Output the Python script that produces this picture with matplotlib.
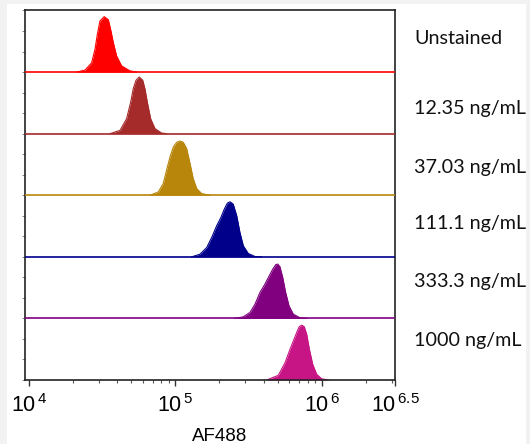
import numpy as np
import matplotlib
matplotlib.use("Agg")
import matplotlib.pyplot as plt
from matplotlib.patches import Rectangle
from matplotlib.ticker import LogLocator, NullFormatter

plt.rcParams["mathtext.fontset"] = "custom"
plt.rcParams["mathtext.rm"] = "Liberation Sans"
plt.rcParams["font.family"] = "Liberation Sans"

# sample labels, top to bottom
samples = ["Unstained", "12.35 ng/mL", "37.03 ng/mL", "111.1 ng/mL", "333.3 ng/mL", "1000 ng/mL"]
colors = ["#ff0000", "#a52a2a", "#b8860b", "#00008b", "#800080", "#c71585"]

# histogram outlines: log10(AF488) and height (fraction of a row)
unstained_log = [4.326, 4.383, 4.428, 4.451, 4.467, 4.485, 4.514, 4.542, 4.558, 4.576, 4.599, 4.633, 4.690, 4.736]
unstained_h = [0.0, 0.033, 0.15, 0.37, 0.61, 0.83, 0.90, 0.85, 0.69, 0.48, 0.26, 0.10, 0.02, 0.0]

c12_log = [4.553, 4.622, 4.667, 4.695, 4.712, 4.731, 4.753, 4.777, 4.792, 4.808, 4.831, 4.861, 4.906, 4.941]
c12_h = [0.0, 0.054, 0.244, 0.515, 0.73, 0.867, 0.92, 0.867, 0.73, 0.515, 0.244, 0.081, 0.01, 0.0]

c37_log = [4.827, 4.883, 4.917, 4.940, 4.963, 4.986, 5.009, 5.031, 5.054, 5.077, 5.100, 5.122, 5.146, 5.180, 5.236]
c37_h = [0.0, 0.054, 0.19, 0.41, 0.62, 0.785, 0.86, 0.88, 0.86, 0.76, 0.515, 0.27, 0.108, 0.027, 0.0]

c111_log = [5.111, 5.168, 5.214, 5.248, 5.282, 5.311, 5.334, 5.355, 5.373, 5.395, 5.419, 5.441, 5.464, 5.498, 5.544, 5.589]
c111_h = [0.0, 0.042, 0.151, 0.314, 0.504, 0.639, 0.774, 0.872, 0.894, 0.855, 0.667, 0.395, 0.179, 0.054, 0.005, 0.0]

c333_log = [5.407, 5.464, 5.510, 5.544, 5.578, 5.612, 5.641, 5.665, 5.685, 5.699, 5.714, 5.733, 5.753, 5.776, 5.805, 5.851, 5.897]
c333_h = [0.0, 0.026, 0.098, 0.233, 0.423, 0.558, 0.693, 0.80, 0.872, 0.883, 0.84, 0.667, 0.423, 0.205, 0.07, 0.01, 0.0]

c1000_log = [5.624, 5.703, 5.749, 5.783, 5.810, 5.833, 5.846, 5.863, 5.880, 5.897, 5.915, 5.938, 5.965, 5.999, 6.044]
c1000_h = [0.0, 0.076, 0.28, 0.50, 0.66, 0.797, 0.867, 0.89, 0.867, 0.743, 0.50, 0.255, 0.093, 0.02, 0.0]

curves = [
    (unstained_log, unstained_h),
    (c12_log, c12_h),
    (c37_log, c37_h),
    (c111_log, c111_h),
    (c333_log, c333_h),
    (c1000_log, c1000_h),
]

tick_exps = [4, 5, 6, 6.5]
tick_labels = [r"$10^{\,4}$", r"$10^{\,5}$", r"$10^{\,6}$", r"$10^{\,6.5}$"]

# label placement (row offsets), layout only
label_y = [5.54, 4.41, 3.45, 2.54, 1.60, 0.64]

fig = plt.figure(figsize=(5.30, 4.44), dpi=100)
fig.patch.set_facecolor("#f2f2f2")
fig.patches.append(Rectangle((7 / 530, 0), 519 / 530, 440 / 444, transform=fig.transFigure,
                             facecolor="white", edgecolor="none", zorder=-1))

ax = fig.add_axes([25 / 530, 64 / 444, 370 / 530, 369.5 / 444])
ax.set_xscale("log")
ax.set_xlim(10 ** 3.973, 10 ** 6.5)
ax.set_ylim(0, 6)

n = len(samples)
for i, (lg, h) in enumerate(curves):
    base = n - 1 - i
    x = 10 ** np.array(lg)
    y = base + np.array(h)
    ax.fill_between(x, base, y, color=colors[i], lw=0, zorder=2)
    ax.plot(x, y, color=colors[i], lw=0.8, zorder=2)
    if base > 0:
        ax.axhline(base, color=colors[i], lw=1.2, zorder=3)
    ax.text(1.052, label_y[i] / 6, samples[i], transform=ax.transAxes, ha="left", va="center",
            fontsize=14.2, family="Lato", color="#111111")

ax.set_xticks([10 ** e for e in tick_exps])
ax.set_xticklabels(tick_labels, fontsize=15.5)
ax.xaxis.set_minor_locator(LogLocator(base=10, subs=np.arange(2, 10), numticks=20))
ax.xaxis.set_minor_formatter(NullFormatter())
ax.tick_params(axis="x", which="major", direction="out", length=4, width=1, color="#333333", pad=6)
ax.tick_params(axis="x", which="minor", direction="out", length=2.5, width=0.8, color="#555555")

ax.set_yticks(np.arange(0, 6.01, 1 / 3))
ax.set_yticklabels([])
ax.tick_params(axis="y", direction="out", length=2, width=0.7, color="#888888")

for s in ax.spines.values():
    s.set_color("#222222")
    s.set_linewidth(1.2)

ax.set_xlabel("AF488", fontsize=13.5)
ax.xaxis.set_label_coords(0.526, -0.13)

fig.savefig("out.png", dpi=100)
